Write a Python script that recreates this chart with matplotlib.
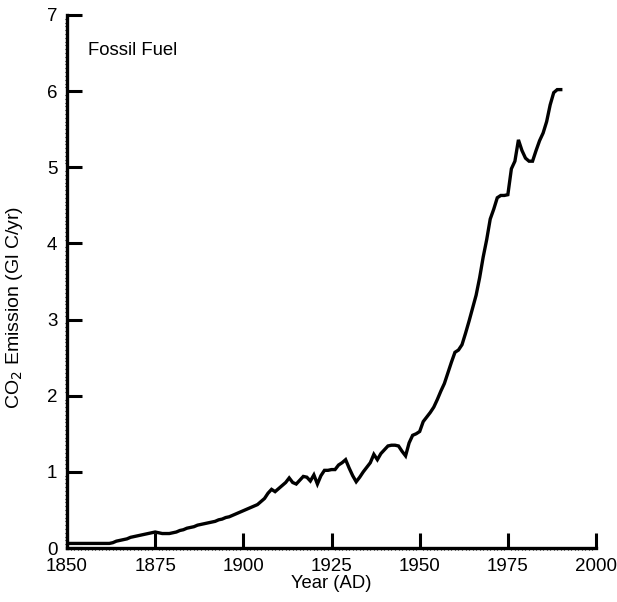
import matplotlib
matplotlib.use("Agg")
import matplotlib.pyplot as plt
from matplotlib.ticker import MultipleLocator

plt.rcParams['font.family'] = ['Liberation Sans', 'DejaVu Sans']

# Global fossil-fuel CO2 emission, Gt C per year
years = list(range(1850, 1991))
emission = [
    0.06, 0.06, 0.06, 0.06, 0.06, 0.06, 0.06, 0.06, 0.06, 0.06,   # 1850-1859
    0.06, 0.06, 0.06, 0.07, 0.09, 0.10, 0.11, 0.12, 0.14, 0.15,   # 1860-1869
    0.16, 0.17, 0.18, 0.19, 0.20, 0.21, 0.20, 0.19, 0.19, 0.19,   # 1870-1879
    0.20, 0.21, 0.23, 0.24, 0.26, 0.27, 0.28, 0.30, 0.31, 0.32,   # 1880-1889
    0.33, 0.34, 0.35, 0.37, 0.38, 0.40, 0.41, 0.43, 0.45, 0.47,   # 1890-1899
    0.49, 0.51, 0.53, 0.55, 0.57, 0.61, 0.65, 0.72, 0.77, 0.74,   # 1900-1909
    0.78, 0.82, 0.86, 0.92, 0.86, 0.84, 0.89, 0.94, 0.93, 0.88,   # 1910-1919
    0.96, 0.84, 0.95, 1.02, 1.02, 1.03, 1.03, 1.09, 1.12, 1.16,   # 1920-1929
    1.05, 0.95, 0.87, 0.93, 1.00, 1.06, 1.12, 1.23, 1.16, 1.24,   # 1930-1939
    1.29, 1.34, 1.35, 1.35, 1.34, 1.27, 1.21, 1.38, 1.48, 1.50,   # 1940-1949
    1.53, 1.66, 1.72, 1.78, 1.85, 1.95, 2.06, 2.16, 2.30, 2.44,   # 1950-1959
    2.57, 2.60, 2.67, 2.82, 2.98, 3.15, 3.32, 3.55, 3.82, 4.05,   # 1960-1969
    4.32, 4.45, 4.60, 4.63, 4.63, 4.64, 4.98, 5.08, 5.36, 5.22,   # 1970-1979
    5.12, 5.08, 5.08, 5.22, 5.35, 5.45, 5.60, 5.82, 5.98, 6.02,   # 1980-1989
    6.02,                                                         # 1990
]

x_ticks = [1850, 1875, 1900, 1925, 1950, 1975, 2000]
y_ticks = [0, 1, 2, 3, 4, 5, 6, 7]

fig = plt.figure(figsize=(6.17, 6.02), dpi=100)
ax = fig.add_axes([0.1086, 0.0897, 0.8574, 0.8854])

ax.plot(years, emission, color='black', lw=2.4, solid_joinstyle='miter')

ax.set_xlim(1850, 2000)
ax.set_ylim(0, 7)
ax.set_xticks(x_ticks)
ax.set_yticks(y_ticks)
ax.xaxis.set_minor_locator(MultipleLocator(1))
ax.yaxis.set_minor_locator(MultipleLocator(0.05))

for side in ('top', 'right'):
    ax.spines[side].set_visible(False)
for side in ('left', 'bottom'):
    ax.spines[side].set_linewidth(2.4)

ax.tick_params(axis='both', which='major', direction='in', length=11,
               width=2.2, labelsize=13.5, color='black')
ax.tick_params(axis='x', which='major', pad=7)
ax.tick_params(axis='y', which='major', pad=7)
ax.tick_params(axis='both', which='minor', direction='out', length=1.5,
               width=0.8, color='black')

ax.set_xlabel('Year (AD)', fontsize=13.3, labelpad=0)
ax.set_ylabel(r'CO$_2$ Emission (Gl C/yr)', fontsize=14)
ax.yaxis.set_label_coords(-0.079, 0.452)

ax.text(1856, 6.54, 'Fossil Fuel', fontsize=13.3, ha='left', va='center')

fig.savefig('out.png', dpi=100)
